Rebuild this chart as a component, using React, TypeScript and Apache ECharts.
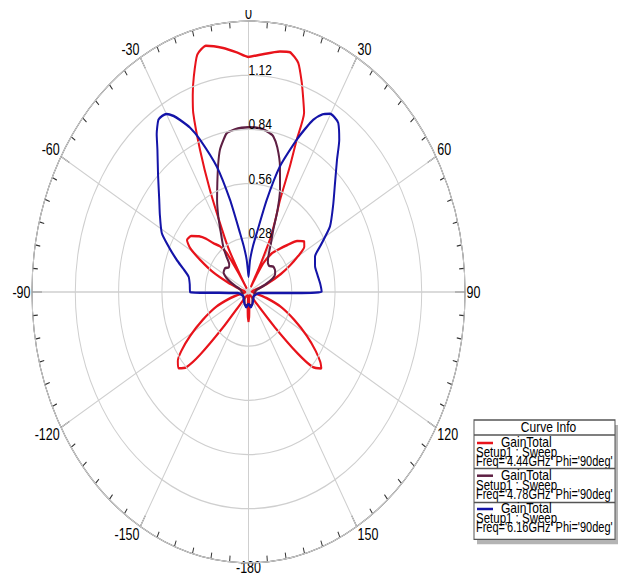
import React, { useEffect, useRef } from 'react';
import * as echarts from 'echarts';

// ---------- data (theta in degrees, gain linear) ----------
const redTheta = [-180, -178, -176, -172, -165, -155, -145, -140, -138, -136, -134, -131, -128, -125, -121, -116, -110, -105, -100, -95, -88, -80, -76, -73, -70, -66, -62, -59, -56, -52, -48, -45, -42, -38, -35, -33.5, -32.5, -31.5, -30, -28, -25.3, -23.1, -21.1, -19.5, -17.6, -15.1, -12.2, -7.4, -3.5, 0, 3.5, 9.3, 12.2, 15.2, 17.7, 19.5, 21.2, 21.6, 22.4, 23.2, 25, 27, 28.5, 30, 31.5, 33, 37, 42, 46, 50, 54, 57, 60, 63, 66, 70, 74, 78, 85, 92, 100, 105, 110, 116, 121, 125, 128, 130, 133, 135, 137, 139, 142, 150, 160, 168, 172, 176, 178, 180];
const redGain = [0.155, 0.13, 0.08, 0.02, 0.02, 0.02, 0.03, 0.08, 0.25, 0.45, 0.56, 0.6, 0.58, 0.53, 0.44, 0.33, 0.22, 0.12, 0.05, 0.02, 0.02, 0.03, 0.05, 0.08, 0.14, 0.25, 0.355, 0.44, 0.48, 0.47, 0.43, 0.39, 0.34, 0.3, 0.245, 0.12, 0.02, 0.1, 0.25, 0.36, 0.584, 0.799, 0.993, 1.08, 1.169, 1.271, 1.302, 1.272, 1.241, 1.215, 1.229, 1.26, 1.268, 1.227, 1.134, 1.06, 0.994, 0.846, 0.702, 0.518, 0.41, 0.31, 0.15, 0.03, 0.1, 0.18, 0.25, 0.3, 0.35, 0.41, 0.445, 0.43, 0.37, 0.3, 0.23, 0.14, 0.07, 0.03, 0.02, 0.02, 0.05, 0.12, 0.22, 0.33, 0.44, 0.53, 0.59, 0.615, 0.57, 0.45, 0.25, 0.08, 0.03, 0.02, 0.02, 0.02, 0.02, 0.08, 0.13, 0.155];

const maroonTheta = [-180, -170, -160, -150, -135, -120, -105, -95, -88, -80, -75, -70, -66, -63, -58, -51, -45, -41, -38, -34.9, -30, -26.6, -23, -19.7, -16.5, -14.1, -11.5, -9.7, -6, -3, 0, 3, 6, 9, 11.3, 14, 17.4, 21.1, 24, 26.5, 30, 35, 40, 45, 50.7, 57, 62, 66, 70, 75, 80, 88, 95, 105, 120, 135, 150, 160, 170, 180];
const maroonGain = [0.06, 0.07, 0.07, 0.05, 0.04, 0.04, 0.04, 0.04, 0.045, 0.05, 0.06, 0.09, 0.13, 0.16, 0.19, 0.195, 0.18, 0.19, 0.23, 0.285, 0.36, 0.436, 0.52, 0.598, 0.69, 0.758, 0.805, 0.833, 0.845, 0.85, 0.852, 0.851, 0.847, 0.835, 0.82, 0.77, 0.68, 0.566, 0.46, 0.359, 0.29, 0.223, 0.195, 0.19, 0.207, 0.205, 0.195, 0.17, 0.12, 0.07, 0.05, 0.045, 0.04, 0.04, 0.04, 0.04, 0.05, 0.07, 0.07, 0.06];

const blueTheta = [-180, -170, -160, -140, -120, -105, -97, -94, -92, -91, -90, -84, -78.5, -74, -70.3, -66, -61.5, -55, -50.5, -44, -38.7, -36, -33.2, -31.5, -29.9, -28, -26.5, -24, -21.7, -17.6, -14.1, -10.2, -7, -4, -2, 0, 2, 3.5, 7, 9.9, 13.9, 17.4, 21.6, 23.5, 25.2, 27.5, 29.8, 31.8, 33.6, 36.7, 40, 44.8, 50.5, 57.3, 63.1, 67, 73.1, 79, 84.4, 90, 91, 92, 94, 97, 105, 120, 140, 160, 170, 180];
const blueGain = [0.06, 0.08, 0.07, 0.05, 0.04, 0.05, 0.06, 0.07, 0.13, 0.25, 0.378, 0.382, 0.395, 0.44, 0.493, 0.56, 0.638, 0.7, 0.748, 0.842, 0.942, 1.01, 1.064, 1.068, 1.062, 1.03, 0.994, 0.93, 0.847, 0.681, 0.491, 0.309, 0.23, 0.166, 0.11, 0.079, 0.11, 0.166, 0.24, 0.308, 0.49, 0.68, 0.846, 0.92, 0.984, 1.035, 1.061, 1.06, 1.049, 0.982, 0.89, 0.794, 0.71, 0.626, 0.518, 0.467, 0.45, 0.455, 0.465, 0.473, 0.3, 0.15, 0.08, 0.06, 0.05, 0.04, 0.05, 0.07, 0.08, 0.06];

const seriesNames = ['GainTotal 4.44GHz', 'GainTotal 4.78GHz', 'GainTotal 6.16GHz'];
const legendFreqs = ['4.44GHz', '4.78GHz', '6.16GHz'];
const radiusTicks = [0, 0.28, 0.56, 0.84, 1.12, 1.4];

const COLORS = ['#e8131b', '#5e1f43', '#1414a8'];
const SY = 578 / 462;
const FONT = '"Liberation Sans", Arial, sans-serif';

function toPolar(theta: number[], gain: number[]) {
  return theta.map((t, i) => [gain[i], t < 0 ? t + 360 : t]);
}

function yy(finalY: number) {
  return finalY / SY;
}

function txt(text: string, x: number, y: number, size: number, align = 'left') {
  return {
    type: 'text',
    style: { text, x, y, align, verticalAlign: 'middle', font: `${size}px ${FONT}`, fill: '#000', lineHeight: 7.4 },
    z: 12,
  };
}

function buildLegend() {
  const els: any[] = [];
  const x0 = 474;
  const w = 141;
  const top = yy(420);
  const bottom = yy(539.3);
  els.push({ type: 'rect', shape: { x: x0 + 3, y: top + 4, width: w, height: bottom - top }, style: { fill: '#b4b4b4' }, z: 10 });
  els.push({ type: 'rect', shape: { x: x0, y: top, width: w, height: bottom - top }, style: { fill: '#ffffff', stroke: '#555555', lineWidth: 1 }, z: 11 });
  els.push(txt('Curve Info', x0 + w / 2 + 4, yy(427), 12, 'center'));
  els.push({ type: 'line', shape: { x1: x0, y1: yy(435), x2: x0 + w, y2: yy(435) }, style: { stroke: '#555555', lineWidth: 1 }, z: 12 });
  const starts = [442.5, 475.2, 508.5];
  starts.forEach((s, i) => {
    els.push({ type: 'line', shape: { x1: 477, y1: yy(s + 0.5), x2: 493, y2: yy(s + 0.5) }, style: { stroke: COLORS[i], lineWidth: 2 }, z: 12 });
    els.push(txt('GainTotal', 501, yy(s), 12));
    els.push(txt('Setup1 : Sweep', 476, yy(s + 9.6), 11.5));
    els.push(txt(`Freq='${legendFreqs[i]}' Phi='90deg'`, 476, yy(s + 19.4), 11));
    if (i < 2) {
      const sy = i === 0 ? 468.5 : 502.5;
      els.push({ type: 'line', shape: { x1: x0, y1: yy(sy), x2: x0 + w, y2: yy(sy) }, style: { stroke: '#555555', lineWidth: 1 }, z: 12 });
    }
  });
  // the top of the "0" label is cut off in the reference
  els.push({ type: 'rect', shape: { x: 236, y: 0, width: 26, height: yy(10) }, style: { fill: '#ffffff' }, z: 50 });
  return els;
}

export default function App() {
  const ref = useRef<HTMLDivElement>(null);
  useEffect(() => {
    if (!ref.current) return;
    const chart = echarts.init(ref.current, null, { renderer: 'svg' });
    const lists = [toPolar(redTheta, redGain), toPolar(maroonTheta, maroonGain), toPolar(blueTheta, blueGain)];
    chart.setOption({
      animation: false,
      backgroundColor: '#ffffff',
      polar: { center: [248.5, 292 / SY], radius: 216.5 },
      angleAxis: {
        type: 'value',
        min: 0,
        max: 360,
        interval: 30,
        startAngle: 90,
        clockwise: true,
        axisLine: { show: true, lineStyle: { color: '#333333', width: 1 } },
        axisTick: { show: true, inside: true, length: 10, lineStyle: { color: '#333333', width: 1 } },
        minorTick: { show: true, splitNumber: 6, length: 5, lineStyle: { color: '#333333', width: 1 } },
        splitLine: { show: true, lineStyle: { color: '#cfcfcf', width: 1 } },
        axisLabel: {
          margin: 1.5,
          fontSize: 12.5,
          lineHeight: 10,
          fontFamily: FONT,
          color: '#000',
          formatter: (v: number) => (v === 360 ? '' : v === 180 ? '{bot|-180}' : v > 180 ? String(v - 360) : String(v)),
          rich: {
            bot: { fontSize: 12.5, lineHeight: 5, fontFamily: FONT, color: '#000' },
          },
        },
      },
      radiusAxis: {
        type: 'value',
        min: radiusTicks[0],
        max: radiusTicks[radiusTicks.length - 1],
        interval: radiusTicks[1],
        axisLine: { show: false },
        axisTick: { show: false },
        splitLine: { show: true, lineStyle: { color: '#cfcfcf', width: 1 } },
        axisLabel: {
          margin: 0,
          align: 'left',
          verticalAlign: 'bottom',
          lineHeight: 8,
          fontSize: 12,
          fontFamily: FONT,
          color: '#000',
          formatter: (v: number) => (v > 0.01 && v < 1.39 ? v.toFixed(2) : ''),
        },
        z: 5,
      },
      series: lists.map((d, i) => ({
        type: 'line',
        name: seriesNames[i],
        coordinateSystem: 'polar',
        data: d,
        symbol: 'none',
        smooth: 0.2,
        lineStyle: { color: COLORS[i], width: 2 },
        z: 3 + i,
      })),
      graphic: { elements: buildLegend() },
    });
    return () => chart.dispose();
  }, []);
  return (
    <div style={{ position: 'absolute', left: 0, top: 0, width: 623, height: 578, overflow: 'hidden', background: '#fff' }}>
      <div ref={ref} style={{ width: 623, height: 462, transform: `scaleY(${SY})`, transformOrigin: '0 0' }} />
    </div>
  );
}
